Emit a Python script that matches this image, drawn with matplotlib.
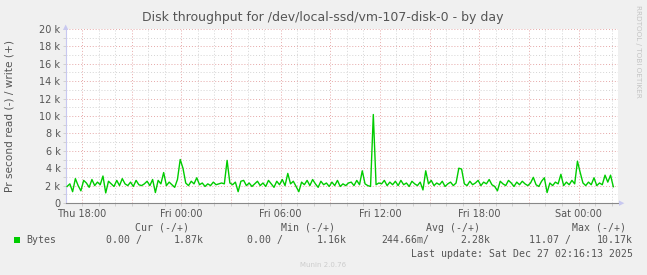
import numpy as np
import pandas as pd
import matplotlib
matplotlib.use("Agg")
import matplotlib.pyplot as plt
import matplotlib.dates as mdates
from matplotlib.ticker import MultipleLocator, FuncFormatter

# write throughput (bytes/s, in k), one sample every 10 minutes from Thu 17:06
write_k = [
    1.9, 2.2, 1.3, 2.8, 2.0, 1.4, 2.6, 2.3, 1.8, 2.7, 2.0, 2.4,
    2.1, 3.1, 1.16, 2.5, 2.2, 1.9, 2.6, 2.0, 2.8, 2.2, 2.0, 2.4,
    1.9, 2.6, 2.1, 2.0, 2.2, 2.5, 2.0, 2.7, 1.2, 2.6, 2.2, 3.5,
    2.0, 2.4, 2.1, 1.8, 2.7, 5.0, 4.0, 2.3, 2.0, 2.5, 2.2, 2.9,
    2.1, 2.3, 1.9, 2.2, 2.0, 2.4, 2.1, 2.2, 2.3, 2.2, 4.9, 2.3,
    2.1, 2.4, 1.3, 2.5, 2.6, 2.0, 2.3, 1.9, 2.2, 2.5, 2.0, 2.3,
    1.9, 2.6, 2.2, 1.8, 2.5, 2.1, 2.7, 2.0, 3.4, 2.2, 2.5, 1.9,
    1.3, 2.4, 2.1, 2.6, 2.0, 2.7, 2.2, 1.8, 2.5, 2.1, 2.3, 1.9,
    2.4, 2.0, 2.6, 1.9, 2.2, 2.0, 2.3, 2.4, 2.0, 2.6, 2.1, 3.7,
    2.2, 2.0, 1.9, 10.17, 2.1, 2.3, 2.2, 2.6, 2.0, 2.4, 2.1, 2.5,
    2.0, 2.6, 2.1, 2.3, 1.9, 2.5, 2.2, 2.0, 2.4, 1.5, 3.7, 2.2,
    2.6, 2.0, 2.3, 2.1, 2.5, 1.9, 2.2, 2.4, 2.0, 2.3, 4.0, 3.9,
    2.2, 2.0, 2.5, 2.1, 2.3, 2.6, 2.0, 2.4, 2.2, 2.7, 2.1, 1.9,
    1.4, 2.5, 2.2, 2.0, 2.6, 2.3, 1.9, 2.4, 2.1, 2.5, 2.2, 2.0,
    2.3, 2.95, 2.1, 1.9, 2.5, 2.9, 1.2, 2.3, 2.0, 2.4, 2.2, 3.3,
    2.0, 2.4, 2.1, 2.6, 2.2, 4.8, 3.5, 2.3, 2.0, 2.4, 2.1, 2.9,
    2.0, 2.3, 2.1, 3.2, 2.4, 3.2, 1.87,
]
times = pd.date_range("2025-12-25 17:06", periods=len(write_k), freq="10min")
write = np.array(write_k) * 1000

title = "Disk throughput for /dev/local-ssd/vm-107-disk-0 - by day"
ylabel = "Pr second read (-) / write (+)"
legend_cols = ["Cur (-/+)", "Min (-/+)", "Avg (-/+)", "Max (-/+)"]
legend_vals = [("0.00 /", "1.87k"), ("0.00 /", "1.16k"), ("244.66m/", "2.28k"), ("11.07 /", "10.17k")]
last_update = "Last update: Sat Dec 27 02:16:13 2025"

W, H = 647, 275
fig = plt.figure(figsize=(W / 100, H / 100), dpi=100, facecolor="#f0f0f0")
ax = fig.add_axes([66 / W, 1 - 203 / H, (618 - 66) / W, (203 - 29) / H])
ax.set_facecolor("white")

ax.plot(times, write, color="#00cc00", lw=1.0, zorder=3)

ax.set_xlim(pd.Timestamp("2025-12-25 17:02"), pd.Timestamp("2025-12-27 02:23"))
ax.set_ylim(0, 20000)

# grid: minor grey, major red, like rrdtool
ax.yaxis.set_major_locator(MultipleLocator(2000))
ax.yaxis.set_minor_locator(MultipleLocator(1000))
ax.yaxis.set_major_formatter(FuncFormatter(lambda v, p: "0" if v == 0 else "%d k" % (v / 1000)))
ax.xaxis.set_major_locator(mdates.HourLocator(byhour=range(0, 24, 3)))
ax.xaxis.set_minor_locator(mdates.HourLocator())


def xfmt(v, p):
    d = mdates.num2date(v)
    return d.strftime("%a %H:%M") if d.hour % 6 == 0 else ""


ax.xaxis.set_major_formatter(FuncFormatter(xfmt))
ax.grid(which="minor", color="#d4d4d4", linestyle=(0, (1, 2)), lw=0.7)
ax.grid(which="major", color="#e6a8a8", linestyle=(0, (1, 2)), lw=0.7)
ax.set_axisbelow(True)

for s in ["top", "right"]:
    ax.spines[s].set_visible(False)
ax.spines["left"].set_color("#c8c8f0")
ax.spines["bottom"].set_color("#888888")
ax.spines["left"].set_linewidth(0.8)
ax.spines["bottom"].set_linewidth(0.8)
ax.tick_params(which="both", length=2, width=0.6, color="#cccccc", labelsize=7, labelcolor="#555555", pad=2)

# arrows at axis ends
fig.text(66 / W, 1 - 27 / H, "\u25b2", color="#c8c8f0", fontsize=5, ha="center", va="center")
fig.text(622 / W, 1 - 203 / H, "\u25b6", color="#c8c8f0", fontsize=5, ha="center", va="center")

fig.text(323 / W, 1 - 18 / H, title, ha="center", va="center", fontsize=9, color="#555555")
fig.text(10 / W, 1 - 116 / H, ylabel, rotation=90, ha="center", va="center", fontsize=7.6, color="#555555")
fig.text(638 / W, 1 - 5 / H, "RRDTOOL / TOBI OETIKER", rotation=270, ha="center", va="top",
         fontsize=5.2, color="#c4c4c4")

mono = dict(family="DejaVu Sans Mono", fontsize=7.1, color="#555555", va="center")
col_right = [189, 335, 480, 626]
for lab, xr in zip(legend_cols, col_right):
    fig.text(xr / W, 1 - 228 / H, lab, ha="right", **mono)

fig.patches.append(plt.Rectangle((14 / W, 1 - 243 / H), 6 / W, 6 / H, transform=fig.transFigure,
                                 facecolor="#00cc00", edgecolor="none"))
fig.text(26 / W, 1 - 240 / H, "Bytes", ha="left", **mono)
read_right = [142, 283, 429, 571]
write_right = [204, 347, 490, 633]
for (rv, wv), xr1, xr2 in zip(legend_vals, read_right, write_right):
    fig.text(xr1 / W, 1 - 240 / H, rv, ha="right", **mono)
    fig.text(xr2 / W, 1 - 240 / H, wv, ha="right", **mono)
fig.text(633 / W, 1 - 254 / H, last_update, ha="right", **mono)

fig.text(323 / W, 1 - 265 / H, "Munin 2.0.76", ha="center", va="center", fontsize=5, color="#cccccc")

fig.savefig("out.png", dpi=100, facecolor=fig.get_facecolor())
